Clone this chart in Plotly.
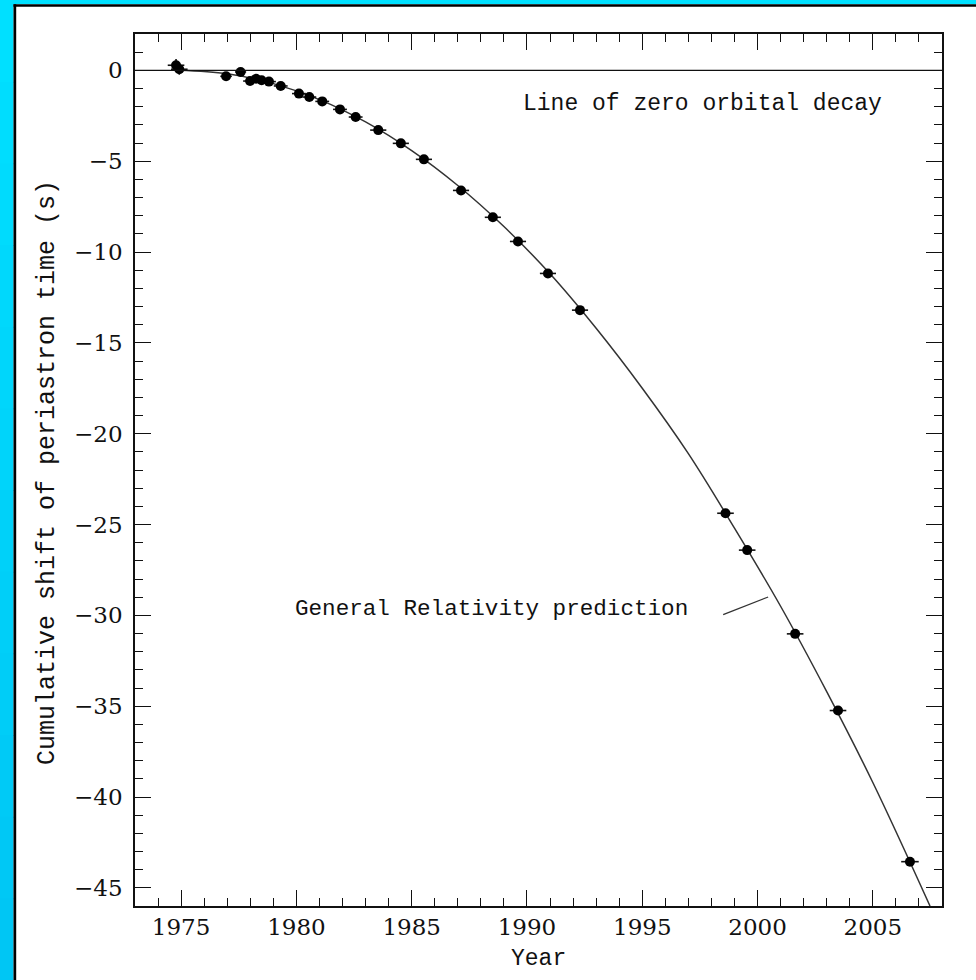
import plotly.graph_objects as go

# Measured periastron shifts (PSR B1913+16)
obs_year = [1974.78, 1974.92, 1976.95, 1977.58, 1977.99, 1978.25, 1978.49, 1978.81,
            1979.32, 1980.11, 1980.56, 1981.12, 1981.89, 1982.57, 1983.55, 1984.53,
            1985.53, 1987.14, 1988.52, 1989.61, 1990.91, 1992.30, 1998.61, 1999.55,
            2001.63, 2003.49, 2006.61]
obs_shift = [0.28, 0.06, -0.33, -0.09, -0.59, -0.46, -0.55, -0.62,
             -0.86, -1.28, -1.47, -1.71, -2.15, -2.57, -3.29, -4.02,
             -4.90, -6.61, -8.09, -9.42, -11.18, -13.20, -24.38, -26.41,
             -31.02, -35.24, -43.56]
obs_year_err = [0.36, 0.36, 0.25, 0.24, 0.3, 0.3, 0.3, 0.3,
                0.3, 0.3, 0.3, 0.3, 0.3, 0.3, 0.35, 0.35,
                0.35, 0.35, 0.35, 0.35, 0.35, 0.35, 0.36, 0.36,
                0.36, 0.36, 0.38]
obs_shift_err = [0.35, 0.3, 0.2, 0.2, 0.12, 0.12, 0.12, 0.12,
                 0.1, 0.1, 0.1, 0.1, 0.1, 0.1, 0.1, 0.1,
                 0.1, 0.1, 0.1, 0.1, 0.1, 0.1, 0.1, 0.1,
                 0.1, 0.1, 0.1]

# General Relativity prediction curve
gr_year = [1974.9, 1977, 1979, 1981, 1983, 1985, 1987, 1989, 1991, 1993,
           1995, 1997, 1999, 2001, 2003, 2005, 2007.48]
gr_shift = [0.0, -0.19, -0.73, -1.61, -2.84, -4.42, -6.34, -8.6, -11.2, -14.2,
            -17.5, -21.1, -25.2, -29.5, -34.2, -39.2, -46.0]

x_range = [1973, 2008]
y_range = [-46, 2]
x_ticks = [1975, 1980, 1985, 1990, 1995, 2000, 2005]
y_ticks = [0, -5, -10, -15, -20, -25, -30, -35, -40, -45]

zero_label = "Line of zero orbital decay"
gr_label = "General Relativity prediction"
x_title = "Year"
y_title = "Cumulative shift of periastron time (s)"

W, H = 976, 980
L, R, T, B = 135, 34, 34, 74
FONT = "Liberation Mono"
TICK_FONT = "DejaVu Serif"
INK = "#111111"


def px(x):
    return (x - L) / (W - L - R)


def py(y):
    return (H - B - y) / (H - T - B)


fig = go.Figure()

# prediction curve
fig.add_trace(go.Scatter(
    x=gr_year, y=gr_shift, mode="lines",
    line=dict(color="#333333", width=1.5, shape="spline", smoothing=1.0),
    hoverinfo="skip", showlegend=False,
))

# observations
fig.add_trace(go.Scatter(
    x=obs_year, y=obs_shift, mode="markers",
    marker=dict(color="black", size=10, symbol="circle"),
    error_x=dict(type="data", array=obs_year_err, color=INK, thickness=1.6, width=0),
    error_y=dict(type="data", array=obs_shift_err, color=INK, thickness=1.6, width=0),
    showlegend=False,
))

fig.add_hline(y=0, line=dict(color=INK, width=1.3))

# frame decoration around the page
shapes = []
n = 12
for i in range(n):
    g = int(0xE0 - (0xE0 - 0xC6) * i / (n - 1))
    b = int(0xFF - (0xFF - 0xF4) * i / (n - 1))
    col = f"#00{g:02X}{b:02X}"
    shapes.append(dict(type="rect", xref="paper", yref="paper", layer="below",
                       x0=px(0), x1=px(13.5), y0=py(H * i / n), y1=py(H * (i + 1) / n + 1),
                       fillcolor=col, line=dict(width=0)))
shapes.append(dict(type="rect", xref="paper", yref="paper", layer="below",
                   x0=px(0), x1=px(W), y0=py(0), y1=py(4.3),
                   fillcolor="#00E0FF", line=dict(width=0)))
shapes.append(dict(type="rect", xref="paper", yref="paper", layer="below",
                   x0=px(13.5), x1=px(W), y0=py(4.3), y1=py(6.8),
                   fillcolor="black", line=dict(width=0)))
shapes.append(dict(type="rect", xref="paper", yref="paper", layer="below",
                   x0=px(13.5), x1=px(16.2), y0=py(4.3), y1=py(H),
                   fillcolor="black", line=dict(width=0)))

# leader from the GR label to the curve
shapes.append(dict(type="line", xref="x", yref="y",
                   x0=1998.51, y0=-29.96, x1=2000.46, y1=-28.99,
                   line=dict(color="#333333", width=1.3)))

for s in shapes:
    fig.add_shape(**s)

fig.add_annotation(x=1997.6, y=-1.85, text=zero_label, showarrow=False,
                   font=dict(family=FONT, size=23, color=INK),
                   xanchor="center", yanchor="middle")
fig.add_annotation(x=1988.44, y=-29.65, text=gr_label, showarrow=False,
                   font=dict(family=FONT, size=22.6, color=INK),
                   xanchor="center", yanchor="middle")

# axis titles
fig.add_annotation(xref="paper", yref="paper", x=px(538), y=py(959), text=x_title,
                   showarrow=False, font=dict(family=FONT, size=23, color=INK),
                   xanchor="center", yanchor="middle")
fig.add_annotation(xref="paper", yref="paper", x=px(47), y=py(473), text=y_title,
                   textangle=-90, showarrow=False,
                   font=dict(family=FONT, size=25, color=INK),
                   xanchor="center", yanchor="middle")

axis_common = dict(
    showgrid=False, zeroline=False, showline=True, linecolor=INK, linewidth=1.6,
    mirror="allticks", ticks="inside", ticklen=16, tickwidth=1.4, tickcolor=INK,
    tickfont=dict(family=TICK_FONT, size=23, color=INK),
)

fig.update_xaxes(range=x_range, tickmode="array", tickvals=x_ticks,
                 ticktext=[str(v) for v in x_ticks],
                 minor=dict(ticks="inside", ticklen=8, dtick=1, tick0=1973,
                            tickwidth=1.4, tickcolor=INK, showgrid=False),
                 **axis_common)
fig.update_yaxes(range=y_range, tickmode="array", tickvals=y_ticks,
                 ticktext=[("\u2212" + str(-v)) if v < 0 else str(v) for v in y_ticks],
                 ticklabelstandoff=6,
                 minor=dict(ticks="inside", ticklen=8, dtick=1, tick0=0,
                            tickwidth=1.4, tickcolor=INK, showgrid=False),
                 **axis_common)

fig.update_layout(
    width=W, height=H,
    margin=dict(l=L, r=R, t=T, b=B, pad=0),
    paper_bgcolor="white", plot_bgcolor="white",
    showlegend=False,
)

fig.write_html("out.html")
